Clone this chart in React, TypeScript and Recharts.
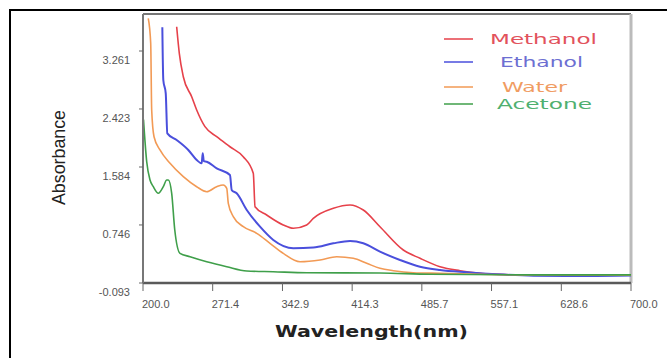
import React from "react";
import { LineChart, Line, XAxis, YAxis, ReferenceLine } from "recharts";

// [wavelength nm, absorbance]
const methanol: [number, number][] = [
    [234.5, 3.612], [237.2, 3.228], [241.3, 2.889], [249.9, 2.6], [255.0, 2.408],
    [263.5, 2.167], [275.5, 2.022], [289.1, 1.877], [302.7, 1.733], [313.0, 1.493],
    [314.8, 1.01], [326.7, 0.89], [343.7, 0.746], [354.0, 0.698], [367.7, 0.746],
    [374.5, 0.842], [395.0, 0.987], [412.1, 1.035], [425.7, 0.962], [442.8, 0.721],
    [466.7, 0.384], [483.8, 0.264], [504.3, 0.143], [524.8, 0.085], [545.3, 0.047],
    [562.4, 0.033], [596.5, 0.018], [650, 0.02], [700, 0.022]
];

const ethanol: [number, number][] = [
    [219.8, 3.604], [220.8, 2.842], [223.3, 2.649], [224.9, 2.071], [234.5, 1.974],
    [246.4, 1.83], [255.0, 1.685], [260.1, 1.637], [261.2, 1.782], [262.3, 1.67],
    [265.3, 1.661], [275.5, 1.565], [289.1, 1.468], [290.9, 1.251], [296.0, 1.204],
    [306.3, 0.962], [319.9, 0.721], [333.5, 0.529], [354.0, 0.409], [374.5, 0.42],
    [395.0, 0.481], [412.1, 0.514], [425.7, 0.481], [442.8, 0.36], [463.3, 0.24],
    [483.8, 0.143], [504.3, 0.095], [531.7, 0.062], [562.4, 0.033], [600, 0.012],
    [650, 0.008], [700, 0.015]
];

const water: [number, number][] = [
    [205.4, 3.734], [207.9, 3.372], [208.9, 2.408], [211.3, 2.022], [217.4, 1.83],
    [227.7, 1.637], [241.3, 1.444], [255.0, 1.299], [265.3, 1.227], [275.5, 1.299],
    [282.2, 1.324], [285.8, 1.276], [287.4, 1.059], [292.5, 0.866], [302.8, 0.721],
    [316.5, 0.625], [330.1, 0.481], [343.7, 0.336], [360.9, 0.215], [381.4, 0.24],
    [398.5, 0.287], [415.5, 0.264], [429.2, 0.192], [442.8, 0.119], [456.5, 0.085],
    [477.0, 0.056], [504.3, 0.047], [545.3, 0.033], [600, 0.022], [700, 0.02]
];

const acetone: [number, number][] = [
    [200.5, 2.27], [203.8, 1.66], [207.2, 1.396], [210.6, 1.299], [215.7, 1.204],
    [220.8, 1.299], [224.3, 1.396], [225.9, 1.396], [229.4, 1.204], [232.5, 0.68],
    [237.9, 0.336], [248.2, 0.287], [265.3, 0.215], [285.8, 0.143], [306.3, 0.081],
    [333.5, 0.07], [367.7, 0.056], [442.8, 0.052], [494.0, 0.033], [600, 0.025],
    [700, 0.025]
];

const xTicks = [200, 271.4, 342.9, 414.3, 485.7, 557.1, 628.6, 700];
const yTicks = [-0.093, 0.746, 1.584, 2.423, 3.261];
const yMax = 3.796;

const legendItems = [
    { name: "Methanol", color: "#e6414a", text: "#e2525c" },
    { name: "Ethanol", color: "#4a4fdc", text: "#6d6fd2" },
    { name: "Water", color: "#f29a55", text: "#f09c62" },
    { name: "Acetone", color: "#3f9f4a", text: "#4fb070" }
];

const toRows = (pts: [number, number][]) => pts.map(([x, y]) => ({ x, y }));

function XTick(props: any) {
    const { x, y, payload } = props;
    return (
        <text x={x - 1} y={y + 15} textAnchor="start" fontSize={11} fill="#555" fontFamily="Liberation Sans">
            {Number(payload.value).toFixed(1)}
        </text>
    );
}

function YTick(props: any) {
    const { y, payload } = props;
    return (
        <text x={130} y={y + 13} textAnchor="end" fontSize={11} fill="#555" fontFamily="Liberation Sans">
            {payload.value}
        </text>
    );
}

export default function App() {
    const series = [methanol, ethanol, water, acetone];
    return (
        <div style={{ position: "absolute", left: 0, top: 0, width: 667, height: 358, background: "#fff", overflow: "hidden" }}>
            <div style={{ position: "absolute", left: 9, top: 9, width: 670, height: 360, borderTop: "2px solid #000", borderLeft: "2px solid #000" }} />
            <LineChart width={667} height={358} margin={{ top: 14, right: 36, bottom: 45, left: 83 }} style={{ position: "absolute", left: 0, top: 0 }}>
                <XAxis
                    type="number"
                    dataKey="x"
                    domain={[200, 700]}
                    ticks={xTicks}
                    height={30}
                    tick={XTick}
                    tickSize={8}
                    tickLine={{ stroke: "#666", strokeWidth: 1 }}
                    axisLine={{ stroke: "#5a5a5a", strokeWidth: 2.5 }}
                    allowDataOverflow
                />
                <YAxis
                    type="number"
                    dataKey="y"
                    domain={[-0.093, yMax]}
                    ticks={yTicks}
                    width={60}
                    tick={YTick}
                    tickSize={4}
                    tickLine={{ stroke: "#666", strokeWidth: 1 }}
                    axisLine={{ stroke: "#777", strokeWidth: 2 }}
                    allowDataOverflow
                />
                <ReferenceLine y={yMax} stroke="#777" strokeWidth={2} />
                <ReferenceLine x={700} stroke="#bbb" strokeWidth={3} />
                {series.map((s, i) => (
                    <Line
                        key={legendItems[i].name}
                        data={toRows(s)}
                        dataKey="y"
                        type="monotone"
                        stroke={legendItems[i].color}
                        strokeWidth={i === 1 ? 2 : 1.6}
                        dot={false}
                        isAnimationActive={false}
                    />
                ))}
                {legendItems.map((item, i) => {
                    const ys = [39, 62, 87, 104];
                    const xs = [490, 500, 502, 497];
                    const ws = [107, 83, 65, 95];
                    return (
                        <g key={item.name}>
                            <line x1={444} x2={473} y1={ys[i]} y2={ys[i]} stroke={item.color} strokeWidth={1.5} />
                            <text x={xs[i]} y={ys[i] + 5} fontSize={14} fill={item.text} fontFamily="DejaVu Sans" textLength={ws[i]} lengthAdjust="spacingAndGlyphs">
                                {item.name}
                            </text>
                        </g>
                    );
                })}
                <text x={275} y={337} fontSize={16} fontWeight="bold" fill="#222" fontFamily="DejaVu Sans" textLength={193} lengthAdjust="spacingAndGlyphs">
                    Wavelength(nm)
                </text>
                <text
                    x={0}
                    y={0}
                    transform="translate(65, 205) rotate(-90)"
                    fontSize={18}
                    fill="#222"
                    fontFamily="Liberation Sans"
                    textLength={95}
                    lengthAdjust="spacingAndGlyphs"
                >
                    Absorbance
                </text>
            </LineChart>
        </div>
    );
}
